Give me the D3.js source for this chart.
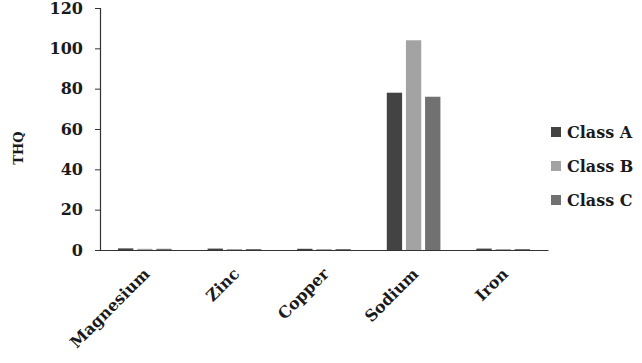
<!DOCTYPE html>
<html>
<head>
<meta charset="utf-8">
<script src="https://cdn.jsdelivr.net/npm/d3@7"></script>
<style>
  body { margin: 0; background: #fff; }
  text { font-family: "DejaVu Serif", serif; font-weight: bold; fill: #1a1a1a; }
</style>
</head>
<body>
<svg id="chart"></svg>
<script>
const svgWidth = 642;
const svgHeight = 363;
const margin = { top: 8, right: 94, bottom: 113, left: 100 };

const width = svgWidth - margin.left - margin.right;
const height = svgHeight - margin.top - margin.bottom;

// data
const elements = ["Magnesium", "Zinc", "Copper", "Sodium", "Iron"];
const classes = ["Class A", "Class B", "Class C"];
const classA = [0.8, 0.7, 0.6, 78, 0.7];
const classB = [0.6, 0.5, 0.5, 104, 0.5];
const classC = [0.6, 0.5, 0.5, 76, 0.5];
const yTicks = [0, 20, 40, 60, 80, 100, 120];
const colors = ["#434343", "#a3a3a3", "#717171"];

const series = [classA, classB, classC];

const svg = d3.select("#chart")
    .attr("width", svgWidth)
    .attr("height", svgHeight);

const chart = svg.append("g")
    .attr("transform", `translate(${margin.left},${margin.top})`);

const xScale = d3.scaleBand()
    .domain(elements)
    .range([0, width])
    .paddingInner(0.38)
    .paddingOuter(0.19);

const xInner = d3.scaleBand()
    .domain(classes)
    .range([0, xScale.bandwidth()])
    .paddingInner(0.2)
    .paddingOuter(0.05);

const yScale = d3.scaleLinear()
    .domain([0, 120])
    .range([height, 0]);

const colorScale = d3.scaleOrdinal().domain(classes).range(colors);

// bars
const groups = chart.selectAll(".group")
    .data(elements)
    .enter()
    .append("g")
    .attr("class", "group")
    .attr("transform", d => `translate(${xScale(d)},0)`);

groups.selectAll("rect")
    .data((d, i) => classes.map((c, j) => ({ cls: c, value: series[j][i] })))
    .enter()
    .append("rect")
    .attr("x", d => xInner(d.cls))
    .attr("y", d => yScale(d.value))
    .attr("width", xInner.bandwidth())
    .attr("height", d => height - yScale(d.value))
    .attr("fill", d => colorScale(d.cls));

// y axis
const yAxis = d3.axisLeft(yScale)
    .tickValues(yTicks)
    .tickSize(5)
    .tickPadding(12);

const yG = chart.append("g").call(yAxis);
yG.select(".domain").attr("stroke", "#333").attr("stroke-width", 1.2);
yG.selectAll(".tick line").attr("stroke", "#333");
yG.selectAll(".tick text").style("font-size", "16px").attr("fill", "#1a1a1a");

// x axis line
const xG = chart.append("g")
    .attr("transform", `translate(0,${height})`)
    .call(d3.axisBottom(xScale).tickSize(0).tickSizeOuter(0).tickFormat(""));
xG.select(".domain").attr("stroke", "#333").attr("stroke-width", 1.2);

// category labels, rotated
chart.selectAll(".xlabel")
    .data(elements)
    .enter()
    .append("text")
    .attr("class", "xlabel")
    .attr("text-anchor", "end")
    .attr("transform", d => `translate(${xScale(d) + xScale.bandwidth() / 2 - 2},${height + 17}) rotate(-45)`)
    .attr("dy", "0.7em")
    .style("font-size", "16px")
    .text(d => d);

// y label
svg.append("text")
    .attr("text-anchor", "middle")
    .attr("transform", `translate(23,${margin.top + height / 2 + 19}) rotate(-90)`)
    .style("font-size", "13px")
    .text("THQ");

// legend
const legend = svg.append("g")
    .attr("transform", "translate(551,132)");

const items = legend.selectAll(".item")
    .data(classes)
    .enter()
    .append("g")
    .attr("class", "item")
    .attr("transform", (d, i) => `translate(0,${i * 34})`);

items.append("rect")
    .attr("x", 0)
    .attr("y", -5)
    .attr("width", 10)
    .attr("height", 10)
    .attr("fill", d => colorScale(d));

items.append("text")
    .attr("x", 16)
    .attr("dy", "0.35em")
    .style("font-size", "16px")
    .text(d => d);
</script>
</body>
</html>
